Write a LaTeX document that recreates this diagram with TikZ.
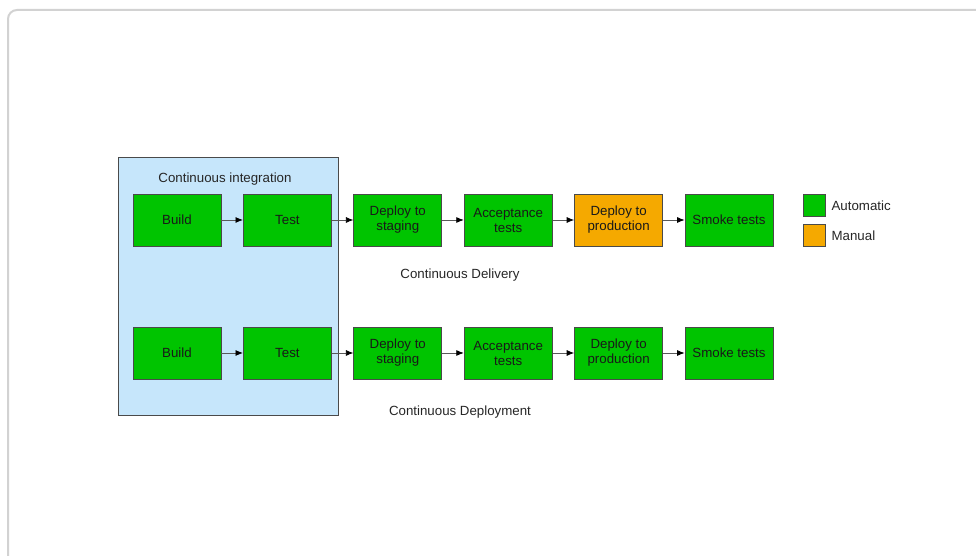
\documentclass[tikz,border=0pt]{standalone}
\usepackage{fontspec}
\setmainfont{Liberation Sans}
\usetikzlibrary{arrows.meta, positioning}

\definecolor{autoGreen}{HTML}{00C400}
\definecolor{manualOrange}{HTML}{F5A900}
\definecolor{ciBlue}{HTML}{C6E6FB}
\definecolor{boxEdge}{HTML}{4A4A4A}
\definecolor{frameGray}{HTML}{D2D2D2}

\tikzset{
    stage/.style={draw=boxEdge, line width=0.8pt, minimum width=88pt, minimum height=52pt,
        inner sep=0pt, align=center, font=\fontsize{13.3}{15}\selectfont, text=black!90},
    flow/.style={draw=black!65, line width=0.8pt, -{Latex[length=7.5pt, width=6pt, color=black]}},
    caption/.style={inner sep=1pt, font=\fontsize{13.3}{15}\selectfont, text=black!85},
}

\begin{document}
\begin{tikzpicture}[x=1pt, y=1pt]
    \def\pitch{110.4}
    \def\firstX{177}
    \def\rowDelivery{336}
    \def\rowDeployment{203}

    \useasboundingbox (0, 0) rectangle (976, 556);
    \clip (0, 0) rectangle (976, 556);

    % Draw outer frame (runs off the right and bottom edges)
    \draw[frameGray, line width=2pt, rounded corners=9pt] (8, 546) rectangle (1010, -30);

    % Draw continuous integration box
    \draw[boxEdge, fill=ciBlue, line width=0.8pt] (118, 399) rectangle (338, 141);
    \node[caption] (ciLabel) at (225, 377) {Continuous integration};

    % Draw delivery pipeline
    \foreach [count=\i] \txt/\clr in {Build/autoGreen, Test/autoGreen,
            Deploy to\\staging/autoGreen, Acceptance\\tests/autoGreen,
            Deploy to\\production/manualOrange, Smoke tests/autoGreen} {
        \node[stage, fill=\clr] (deliv\i) at ({\firstX + (\i - 1) * \pitch}, \rowDelivery) {\txt};
    }

    % Draw deployment pipeline
    \foreach [count=\i] \txt in {Build, Test, Deploy to\\staging, Acceptance\\tests,
            Deploy to\\production, Smoke tests} {
        \node[stage, fill=autoGreen] (deploy\i) at ({\firstX + (\i - 1) * \pitch}, \rowDeployment) {\txt};
    }

    % Connect stages
    \foreach \i [remember=\i as \prev (initially 1)] in {2,...,6} {
        \draw[flow] (deliv\prev) -- (deliv\i);
        \draw[flow] (deploy\prev) -- (deploy\i);
    }

    % Label pipelines
    \node[caption] (delivLabel) at (460, 281) {Continuous Delivery};
    \node[caption] (deployLabel) at (460, 144) {Continuous Deployment};

    % Draw legend
    \node[stage, fill=autoGreen, minimum width=22pt, minimum height=22pt] (keyAuto) at (814, 351) {};
    \node[stage, fill=manualOrange, minimum width=22pt, minimum height=22pt] (keyManual) at (814, 321) {};
    \node[caption, right=5pt of keyAuto, yshift=-1pt] (keyAutoText) {Automatic};
    \node[caption, right=5pt of keyManual, yshift=-1pt] (keyManualText) {Manual};
\end{tikzpicture}
\end{document}
